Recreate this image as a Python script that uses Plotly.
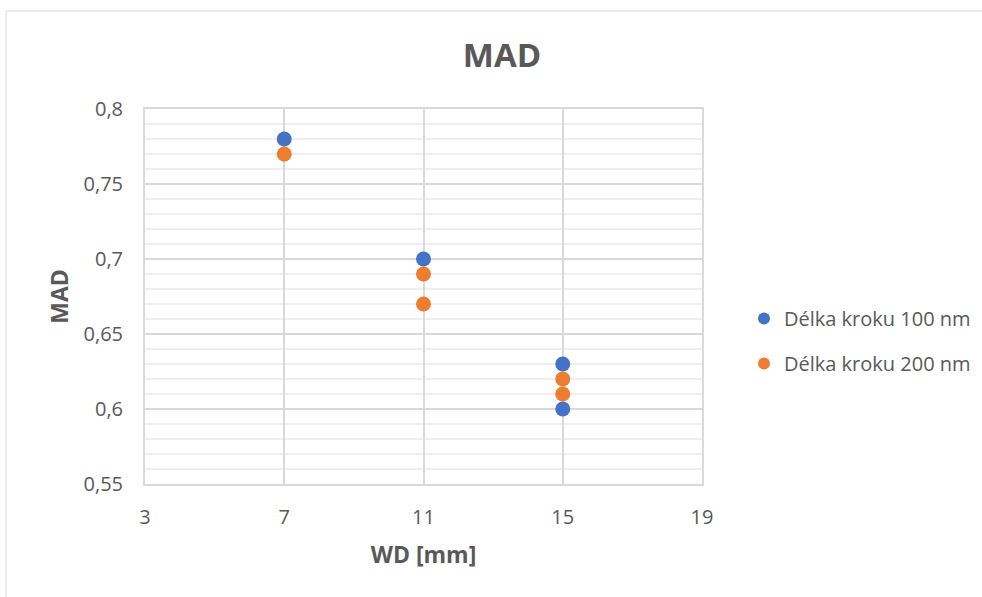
import plotly.graph_objects as go

# Working distance (mm) and MAD values per step length
wd_100 = [7, 11, 15, 15]
mad_100 = [0.78, 0.70, 0.63, 0.60]
wd_200 = [7, 11, 11, 15, 15]
mad_200 = [0.77, 0.69, 0.67, 0.62, 0.61]

series_names = ["Délka kroku 100 nm", "Délka kroku 200 nm"]
y_tick_vals = [0.55, 0.6, 0.65, 0.7, 0.75, 0.8]
y_tick_text = ["0,55", "0,6", "0,65", "0,7", "0,75", "0,8"]
x_tick_vals = [3, 7, 11, 15, 19]

W, H = 982, 597
L, R, T, B = 145, 280, 109, 113
pw, ph = W - L - R, H - T - B

FONT = "Open Sans"
GRAY = "#595959"

fig = go.Figure()
fig.add_trace(go.Scatter(x=wd_100, y=mad_100, mode="markers", name=series_names[0],
                         legendgroup="a", marker=dict(color="#4472C4", size=15)))
fig.add_trace(go.Scatter(x=wd_200, y=mad_200, mode="markers", name=series_names[1],
                         legendgroup="b", marker=dict(color="#ED7D31", size=15)))

# Outer chart frame
fig.add_shape(type="rect", xref="paper", yref="paper",
              x0=(6 - L) / pw, x1=(W + 10 - L) / pw,
              y0=-(B + 20) / ph, y1=(H - 11 - B) / ph,
              line=dict(color="#D9D9D9", width=1), fillcolor="rgba(0,0,0,0)", layer="below")

legend_top_px = 299
fig.update_layout(
    width=W, height=H,
    margin=dict(l=L, r=R, t=T, b=B, autoexpand=False),
    paper_bgcolor="white", plot_bgcolor="white",
    separators=", ",
    font=dict(family=FONT, color=GRAY, size=20),
    title=dict(text="<b>MAD</b>", x=502 / W, xanchor="center", y=1 - 55 / H, yanchor="middle",
               font=dict(size=33, color=GRAY, family=FONT)),
    legend=dict(xref="container", x=744 / W, yref="container", y=1 - legend_top_px / H,
                xanchor="left", yanchor="top",
                font=dict(size=20, color=GRAY, family=FONT), itemsizing="constant",
                tracegroupgap=16, bgcolor="rgba(0,0,0,0)"),
    xaxis=dict(range=[3, 19], tickvals=x_tick_vals, showgrid=True, gridcolor="#D9D9D9", gridwidth=2,
               zeroline=False, showline=True, linecolor="#D9D9D9", linewidth=2, mirror=True, ticks="",
               automargin=False,
               tickfont=dict(size=20, color=GRAY), ticklabelstandoff=14,
               title=dict(text="<b>WD [mm]</b>", font=dict(size=23, color=GRAY), standoff=18)),
    yaxis=dict(range=[0.55, 0.8], tickvals=y_tick_vals, ticktext=y_tick_text,
               showgrid=True, gridcolor="#D9D9D9", gridwidth=2,
               minor=dict(dtick=0.01, showgrid=True, gridcolor="#EFEFEF", gridwidth=1.5, ticks=""),
               zeroline=False, showline=True, linecolor="#D9D9D9", linewidth=2, mirror=True, ticks="",
               automargin=False,
               tickfont=dict(size=20, color=GRAY), ticklabelstandoff=16,
               title=dict(text="<b>MAD</b>", font=dict(size=23, color=GRAY), standoff=8)),
)

fig.write_html("out.html")
